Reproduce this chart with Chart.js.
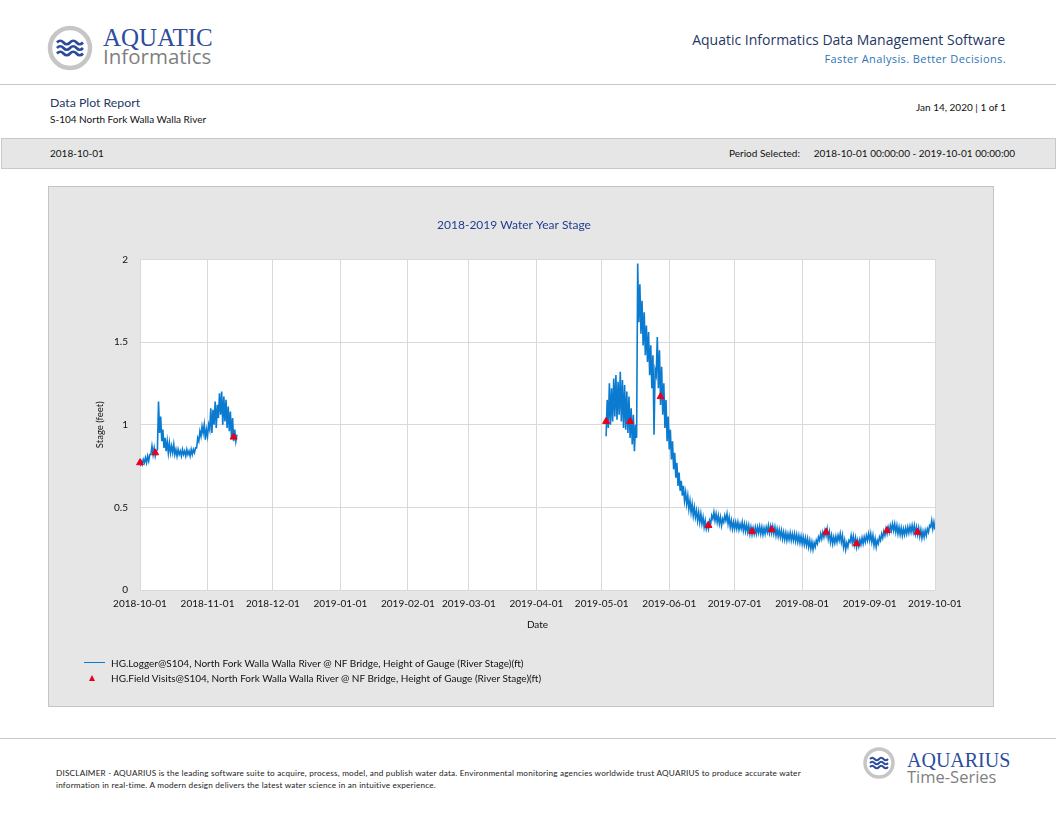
<!DOCTYPE html>
<html>
<head>
<meta charset="utf-8">
<script src="https://cdn.jsdelivr.net/npm/chart.js@4.4.1/dist/chart.umd.min.js"></script>
<style>
  body { margin: 0; background: #fff; width: 1056px; height: 816px; position: relative; overflow: hidden; font-family: Lato, "Open Sans", sans-serif; color: #222; }
  .abs { position: absolute; white-space: nowrap; line-height: 1; }
  .rule { position: absolute; left: 0; width: 1056px; height: 0; border-top: 1px solid #c8c8c8; }
  #band { position: absolute; left: 1px; top: 138px; width: 1053px; height: 29px; background: #e6e6e6; border: 1px solid #c8c8c8; }
  #box { position: absolute; left: 48px; top: 186px; width: 946px; height: 521px; box-sizing: border-box; background: #e6e6e6; border: 1px solid #c4c4c4; }
  #chartWrap { position: absolute; left: 0; top: 0; width: 944px; height: 519px; }
</style>
</head>
<body>

<!-- header -->
<svg class="abs" style="left:46px;top:24px" width="48" height="48" viewBox="0 0 48 48">
  <circle cx="24" cy="24" r="20" fill="#fff" stroke="#c6c6c6" stroke-width="4.5"/>
  <path d="M11 18.5 q3.25 -3.5 6.5 0 t6.5 0 t6.5 0 t6.5 0" fill="none" stroke="#2b4a9b" stroke-width="2.7"/>
  <path d="M11 24 q3.25 -3.5 6.5 0 t6.5 0 t6.5 0 t6.5 0" fill="none" stroke="#2b4a9b" stroke-width="2.7"/>
  <path d="M11 29.5 q3.25 -3.5 6.5 0 t6.5 0 t6.5 0 t6.5 0" fill="none" stroke="#2b4a9b" stroke-width="2.7"/>
</svg>
<div class="abs" style="left:103px;top:25px;font-family:'Liberation Serif',serif;font-size:25px;color:#2d4c9c;">AQUATIC</div>
<div class="abs" style="left:103px;top:46px;font-family:'Open Sans',sans-serif;font-size:20.5px;color:#7f7f7f;">Informatics</div>

<div class="abs" style="right:51px;top:33px;font-family:'Open Sans',sans-serif;font-size:14px;color:#1f3864;">Aquatic Informatics Data Management Software</div>
<div class="abs" style="right:50px;top:53px;font-family:'Open Sans',sans-serif;font-size:11px;letter-spacing:0.4px;color:#2e75b6;">Faster Analysis. Better Decisions.</div>

<div class="rule" style="top:84px"></div>

<div class="abs" style="left:50px;top:97px;font-size:12.3px;color:#1f3864;">Data Plot Report</div>
<div class="abs" style="left:50px;top:114px;font-size:10px;color:#111;">S-104 North Fork Walla Walla River</div>
<div class="abs" style="right:50px;top:102px;font-size:10px;color:#111;">Jan 14, 2020 | 1 of 1</div>

<div id="band"></div>
<div class="abs" style="left:50px;top:148px;font-size:10px;color:#111;">2018-10-01</div>
<div class="abs" style="left:729px;top:148px;font-size:10px;color:#111;">Period Selected:</div>
<div class="abs" style="right:41px;top:148px;font-size:10px;color:#111;">2018-10-01 00:00:00 - 2019-10-01 00:00:00</div>

<!-- chart box -->
<div id="box">
  <div id="chartWrap"><canvas id="stageChart"></canvas></div>
</div>

<!-- legend -->
<div class="abs" style="left:84px;top:662px;width:21px;height:1px;border-top:1.3px solid #0a7bd0;"></div>
<div class="abs" style="left:111px;top:658px;font-size:10px;color:#111;">HG.Logger@S104, North Fork Walla Walla River @ NF Bridge, Height of Gauge (River Stage)(ft)</div>
<div class="abs" style="left:89px;top:675px;width:0;height:0;border-left:3.5px solid transparent;border-right:3.5px solid transparent;border-bottom:6px solid #e8001c;"></div>
<div class="abs" style="left:111px;top:673px;font-size:10px;color:#111;">HG.Field Visits@S104, North Fork Walla Walla River @ NF Bridge, Height of Gauge (River Stage)(ft)</div>

<!-- footer -->
<div class="rule" style="top:738px"></div>
<div class="abs" style="left:56px;top:769px;font-size:8.2px;color:#222;letter-spacing:0.2px;">DISCLAIMER - AQUARIUS is the leading software suite to acquire, process, model, and publish water data. Environmental monitoring agencies worldwide trust AQUARIUS to produce accurate water</div>
<div class="abs" style="left:56px;top:781px;font-size:8.2px;color:#222;letter-spacing:0.2px;">information in real-time. A modern design delivers the latest water science in an intuitive experience.</div>

<svg class="abs" style="left:862px;top:746px" width="34" height="34" viewBox="0 0 34 34">
  <circle cx="17" cy="17" r="14" fill="#fff" stroke="#c6c6c6" stroke-width="3.5"/>
  <path d="M8 13 q2.25 -2.6 4.5 0 t4.5 0 t4.5 0 t4.5 0" fill="none" stroke="#2b4a9b" stroke-width="2"/>
  <path d="M8 17 q2.25 -2.6 4.5 0 t4.5 0 t4.5 0 t4.5 0" fill="none" stroke="#2b4a9b" stroke-width="2"/>
  <path d="M8 21 q2.25 -2.6 4.5 0 t4.5 0 t4.5 0 t4.5 0" fill="none" stroke="#2b4a9b" stroke-width="2"/>
</svg>
<div class="abs" style="left:907px;top:750px;font-family:'Liberation Serif',serif;font-size:20px;color:#2d4c9c;">AQUARIUS</div>
<div class="abs" style="left:907px;top:769px;font-family:'Open Sans',sans-serif;font-size:16.5px;color:#7f7f7f;">Time-Series</div>

<script>
// x axis: days since 2018-10-01
const monthDays = [0, 31, 61, 92, 123, 151, 182, 212, 243, 273, 304, 335, 365];
const monthLabels = ["2018-10-01", "2018-11-01", "2018-12-01", "2019-01-01", "2019-02-01", "2019-03-01",
  "2019-04-01", "2019-05-01", "2019-06-01", "2019-07-01", "2019-08-01", "2019-09-01", "2019-10-01"];
const stageTicks = [0, 0.5, 1, 1.5, 2];
const stageLabels = ["0", "0.5", "1", "1.5", "2"];

// logger record, one low / high reading per day (feet)
const seg1Start = 0;
const logLo1 = [0.75, 0.76, 0.77, 0.77, 0.78, 0.82, 0.82, 0.81, 0.85, 0.95, 0.90, 0.86, 0.84, 0.83, 0.83,
  0.83, 0.82, 0.81, 0.82, 0.81, 0.82, 0.81, 0.82, 0.81, 0.82, 0.83, 0.86, 0.90, 0.93, 0.95,
  0.91, 0.93, 0.97, 0.95, 1.00, 0.98, 1.04, 1.06, 1.00, 1.02, 0.98, 0.96, 0.92, 0.90, 0.90];
const logHi1 = [0.78, 0.79, 0.80, 0.81, 0.82, 0.87, 0.86, 0.84, 1.14, 1.05, 0.97, 0.92, 0.90, 0.89, 0.87,
  0.88, 0.85, 0.85, 0.84, 0.85, 0.84, 0.85, 0.84, 0.85, 0.85, 0.86, 0.92, 0.96, 0.99, 1.00,
  0.97, 1.00, 1.10, 1.09, 1.14, 1.12, 1.19, 1.20, 1.17, 1.15, 1.11, 1.08, 1.04, 0.97, 0.94];

const seg2Start = 214;
const logLo2 = [
  0.93, 0.98, 1.00, 1.02, 1.05, 1.03, 1.06, 1.02, 0.98, 0.97,
  0.95, 0.92, 0.88, 0.84, 0.92, 1.62, 1.55, 1.48, 1.42, 1.38,
  1.30, 1.22, 0.94, 1.30, 1.22, 1.12, 1.06, 0.98, 0.90, 0.85,
  0.79, 0.73, 0.68, 0.63, 0.60, 0.57, 0.54, 0.52, 0.49, 0.47,
  0.45, 0.44, 0.42, 0.41, 0.40, 0.38, 0.37, 0.37, 0.40, 0.43,
  0.42, 0.41, 0.40, 0.39, 0.41, 0.42, 0.40, 0.38, 0.37, 0.37,
  0.37, 0.365, 0.37, 0.36, 0.355, 0.35, 0.34, 0.335, 0.34, 0.34,
  0.345, 0.34, 0.335, 0.34, 0.35, 0.345, 0.345, 0.34, 0.33, 0.325,
  0.32, 0.31, 0.305, 0.30, 0.305, 0.30, 0.30, 0.295, 0.29, 0.285,
  0.28, 0.275, 0.27, 0.26, 0.25, 0.245, 0.26, 0.28, 0.30, 0.31,
  0.32, 0.33, 0.31, 0.29, 0.28, 0.285, 0.29, 0.30, 0.29, 0.26,
  0.245, 0.26, 0.29, 0.285, 0.275, 0.26, 0.265, 0.275, 0.28, 0.29,
  0.30, 0.30, 0.29, 0.27, 0.26, 0.28, 0.30, 0.315, 0.33, 0.34,
  0.35, 0.36, 0.36, 0.35, 0.34, 0.335, 0.33, 0.335, 0.34, 0.345,
  0.35, 0.35, 0.34, 0.335, 0.325, 0.315, 0.32, 0.33, 0.35, 0.38,
  0.37, 0.365];
const logHi2 = [
  1.15, 1.25, 1.22, 1.28, 1.30, 1.26, 1.32, 1.27, 1.24, 1.20,
  1.17, 1.10, 1.06, 1.00, 1.975, 1.85, 1.75, 1.68, 1.60, 1.56,
  1.48, 1.42, 1.33, 1.53, 1.45, 1.35, 1.25, 1.15, 1.05, 0.97,
  0.90, 0.83, 0.77, 0.71, 0.66, 0.63, 0.59, 0.57, 0.54, 0.52,
  0.50, 0.48, 0.47, 0.46, 0.44, 0.42, 0.40, 0.42, 0.45, 0.47,
  0.46, 0.45, 0.44, 0.43, 0.45, 0.46, 0.44, 0.42, 0.41, 0.41,
  0.41, 0.40, 0.41, 0.40, 0.395, 0.39, 0.38, 0.375, 0.38, 0.38,
  0.385, 0.38, 0.375, 0.38, 0.39, 0.385, 0.385, 0.38, 0.37, 0.365,
  0.36, 0.35, 0.345, 0.34, 0.345, 0.34, 0.34, 0.335, 0.33, 0.325,
  0.32, 0.315, 0.31, 0.30, 0.29, 0.285, 0.30, 0.32, 0.34, 0.35,
  0.36, 0.37, 0.35, 0.33, 0.32, 0.325, 0.33, 0.34, 0.33, 0.30,
  0.285, 0.30, 0.33, 0.325, 0.315, 0.30, 0.305, 0.315, 0.32, 0.33,
  0.34, 0.34, 0.33, 0.31, 0.30, 0.32, 0.34, 0.355, 0.37, 0.38,
  0.39, 0.40, 0.40, 0.39, 0.38, 0.375, 0.37, 0.375, 0.38, 0.385,
  0.39, 0.39, 0.38, 0.375, 0.365, 0.355, 0.36, 0.37, 0.39, 0.42,
  0.41, 0.405];

// field visit readings
const visitDays = [0, 7, 43, 214, 225, 239, 261, 281, 290, 315, 329, 343, 357];
const visitStage = [0.77, 0.83, 0.925, 1.02, 1.02, 1.17, 0.39, 0.355, 0.365, 0.35, 0.28, 0.36, 0.35];

function buildSeries(start, lo, hi) {
  const pts = [];
  lo.forEach((v, i) => {
    pts.push({ x: start + i, y: v });
    pts.push({ x: start + i + 0.5, y: hi[i] });
  });
  return pts;
}

const loggerPoints = buildSeries(seg1Start, logLo1, logHi1)
  .concat([{ x: 120, y: null }], buildSeries(seg2Start, logLo2, logHi2));
const visitPoints = visitDays.map((d, i) => ({ x: d, y: visitStage[i] }));

// white plot area
const plotBackground = {
  id: "plotBackground",
  beforeDraw(chart) {
    const { ctx, chartArea: a } = chart;
    ctx.save();
    ctx.fillStyle = "#ffffff";
    ctx.fillRect(a.left, a.top, a.right - a.left, a.bottom - a.top);
    ctx.restore();
  },
};

const font = { family: "Lato, 'Open Sans', sans-serif", size: 10 };

new Chart(document.getElementById("stageChart").getContext("2d"), {
  type: "line",
  data: {
    datasets: [
      {
        label: "HG.Field Visits",
        data: visitPoints,
        showLine: false,
        pointStyle: "triangle",
        pointRadius: 4,
        backgroundColor: "#e8001c",
        borderColor: "#e8001c",
        borderWidth: 1,
        clip: false,
        order: 0,
      },
      {
        label: "HG.Logger",
        data: loggerPoints,
        borderColor: "#0a7bd0",
        borderWidth: 1.6,
        pointRadius: 0,
        tension: 0,
        spanGaps: false,
        order: 1,
      },
    ],
  },
  options: {
    responsive: true,
    maintainAspectRatio: false,
    animation: false,
    layout: { padding: { left: 44, right: 58, top: 0, bottom: 71 } },
    plugins: {
      legend: { display: false },
      tooltip: { enabled: false },
      title: {
        display: true,
        text: "2018-2019 Water Year Stage",
        color: "#203d8f",
        font: { family: font.family, size: 12, weight: "normal" },
        padding: { top: 31, bottom: 27 },
      },
    },
    scales: {
      x: {
        type: "linear",
        min: 0,
        max: 365,
        afterBuildTicks: (axis) => { axis.ticks = monthDays.map((v) => ({ value: v })); },
        afterFit: (axis) => { axis.height = 45; },
        ticks: {
          autoSkip: false,
          maxRotation: 0,
          padding: 8,
          color: "#111",
          font: font,
          callback: (v) => monthLabels[monthDays.indexOf(v)],
        },
        grid: { color: "#d9d9d9", lineWidth: 1, drawTicks: false },
        border: { display: false },
        title: { display: true, text: "Date", color: "#111", font: font, padding: { top: 4, bottom: 4 } },
      },
      y: {
        min: 0,
        max: 2,
        afterBuildTicks: (axis) => { axis.ticks = stageTicks.map((v) => ({ value: v })); },
        afterFit: (axis) => { axis.width = 47; },
        ticks: {
          padding: 12,
          color: "#111",
          font: font,
          callback: (v) => stageLabels[stageTicks.indexOf(v)],
        },
        grid: { color: "#d9d9d9", lineWidth: 1, drawTicks: false },
        border: { display: false },
        title: { display: true, text: "Stage (feet)", color: "#111", font: { family: font.family, size: 9.5 }, padding: 1 },
      },
    },
  },
  plugins: [plotBackground],
});
</script>
</body>
</html>
